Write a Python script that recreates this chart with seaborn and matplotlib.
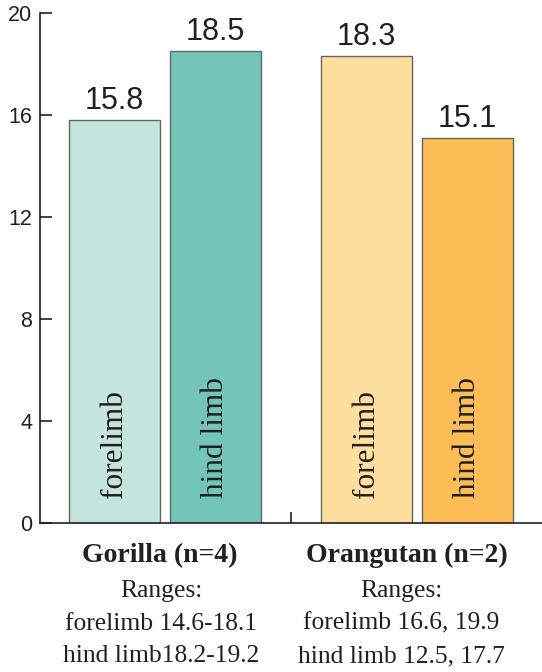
import matplotlib
matplotlib.use("Agg")
import matplotlib.pyplot as plt
import seaborn as sns
import pandas as pd

# Mean values per species and limb
species = ["Gorilla", "Orangutan"]
limbs = ["forelimb", "hind limb"]
gorilla_values = [15.8, 18.5]
orangutan_values = [18.3, 15.1]
group_titles = ["Gorilla (n=4)", "Orangutan (n=2)"]
range_lines = [
    ["Ranges:", "forelimb 14.6-18.1", "hind limb18.2-19.2"],
    ["Ranges:", "forelimb 16.6, 19.9", "hind limb 12.5, 17.7"],
]
y_ticks = [0, 4, 8, 12, 16, 20]

bar_colors = {
    ("Gorilla", "forelimb"): "#c4e5df",
    ("Gorilla", "hind limb"): "#73c5b9",
    ("Orangutan", "forelimb"): "#fedf9f",
    ("Orangutan", "hind limb"): "#fcbd57",
}

df = pd.DataFrame({
    "species": [s for s in species for _ in limbs],
    "limb": limbs * len(species),
    "value": gorilla_values + orangutan_values,
})

sns.set_theme(style="white")
plt.rcParams["font.family"] = ["Liberation Sans", "DejaVu Sans"]

fig = plt.figure(figsize=(5.42, 6.72), dpi=100)
ax = fig.add_axes([40 / 542, 149 / 672, 502 / 542, 510 / 672])

sns.barplot(data=df, x="species", y="value", hue="limb", order=species,
            hue_order=limbs, width=0.8, gap=0.1, edgecolor="#66665a",
            linewidth=1.0, legend=False, ax=ax, errorbar=None)

serif = ["Liberation Serif", "DejaVu Serif"]
for limb, cont in zip(limbs, ax.containers):
    for sp, bar in zip(species, cont):
        bar.set_facecolor(bar_colors[(sp, limb)])
        cx = bar.get_x() + bar.get_width() / 2
        ax.text(cx, 1.0, limb, rotation=90, ha="center", va="bottom",
                fontsize=22.5, family=serif, color="#231f20")
    ax.bar_label(cont, fmt="%.1f", padding=3, fontsize=22,
                 color="#231f20", family=["Liberation Sans", "DejaVu Sans"])

ax.set_xlim(-0.496, 1.496)
ax.set_ylim(0, 20)
ax.set_yticks(y_ticks)
ax.set_xticks([0.5])
ax.set_xticklabels([""])
ax.set_xlabel("")
ax.set_ylabel("")

for side in ["top", "right"]:
    ax.spines[side].set_visible(False)
for side in ["left", "bottom"]:
    ax.spines[side].set_color("#231f20")
    ax.spines[side].set_linewidth(1.2)

ax.tick_params(axis="y", direction="in", length=8.5, width=1.2,
               color="#231f20", labelsize=15.5, labelcolor="#231f20", pad=5.5,
               left=True)
ax.tick_params(axis="x", direction="in", length=8, width=1.2,
               color="#231f20", bottom=True)

# Group titles and range notes beneath the axis
title_dx = [-5, -10]
range_dx = [-4, -16]
for i in range(len(species)):
    ax.annotate(group_titles[i], xy=(i, 0), xycoords=("data", "axes fraction"),
                xytext=(title_dx[i], -39), textcoords="offset pixels",
                ha="center", va="baseline", fontsize=20, fontweight="bold",
                family=serif, color="#231f20", annotation_clip=False)
    for j, line in enumerate(range_lines[i]):
        ax.annotate(line, xy=(i, 0), xycoords=("data", "axes fraction"),
                    xytext=(range_dx[i], -74 - 32.5 * j),
                    textcoords="offset pixels", ha="center", va="baseline",
                    fontsize=18.4, family=serif, color="#231f20",
                    annotation_clip=False)

fig.savefig("out.png", dpi=100)
